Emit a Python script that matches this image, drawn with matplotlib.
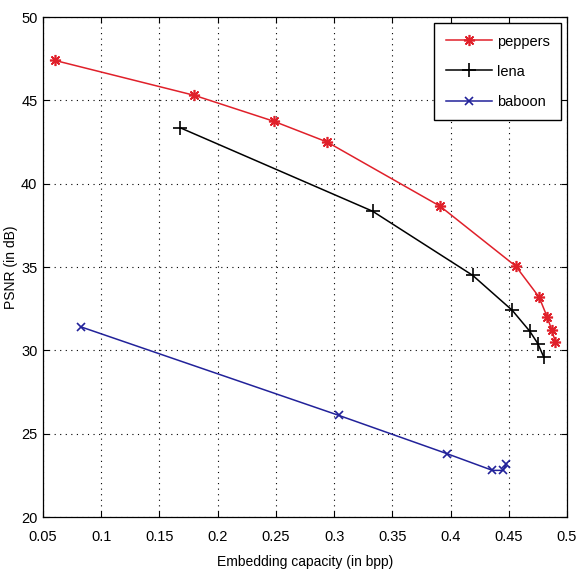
import matplotlib
matplotlib.use("Agg")
import matplotlib.pyplot as plt

# embedding capacity (bpp) vs PSNR (dB)
peppers_x = [0.060, 0.180, 0.248, 0.294, 0.391, 0.456, 0.476, 0.483, 0.487, 0.490]
peppers_y = [47.4, 45.3, 43.75, 42.5, 38.65, 35.05, 33.2, 32.0, 31.2, 30.5]
lena_x = [0.168, 0.333, 0.419, 0.453, 0.468, 0.475, 0.480]
lena_y = [43.35, 38.35, 34.5, 32.4, 31.15, 30.4, 29.6]
baboon_x = [0.083, 0.304, 0.397, 0.436, 0.445, 0.448]
baboon_y = [31.4, 26.1, 23.8, 22.8, 22.8, 23.2]

xticks = [0.05, 0.1, 0.15, 0.2, 0.25, 0.3, 0.35, 0.4, 0.45, 0.5]
xticklabels = ["0.05", "0.1", "0.15", "0.2", "0.25", "0.3", "0.35", "0.4", "0.45", "0.5"]
yticks = [20, 25, 30, 35, 40, 45, 50]

plt.rcParams["font.family"] = ["Liberation Sans", "DejaVu Sans"]

fig = plt.figure(figsize=(5.78, 5.79), dpi=100)
ax = fig.add_axes([0.0744, 0.107, 0.9066, 0.8636])

# matlab-style asterisk = plus + cross
ax.plot(peppers_x, peppers_y, color="#e0202a", marker=(8, 2, 0), markersize=8, mew=1.2, lw=1.1, label="peppers")
ax.plot(lena_x, lena_y, color="black", marker="+", markersize=10, mew=1.2, lw=1.1, label="lena")
ax.plot(baboon_x, baboon_y, color="#22229a", marker="x", markersize=6, mew=1.2, lw=1.1, label="baboon")

ax.set_xlim(0.05, 0.5)
ax.set_ylim(20, 50)
ax.set_xticks(xticks)
ax.set_xticklabels(xticklabels)
ax.set_yticks(yticks)
ax.tick_params(direction="in", length=4, labelsize=10.5, top=True, right=True,
               labeltop=False, labelright=False)
ax.tick_params(axis="x", pad=9)
ax.tick_params(axis="y", pad=4)
ax.grid(True, color="black", linestyle=(0, (1, 4)), linewidth=0.8)
for s in ax.spines.values():
    s.set_linewidth(0.9)

ax.set_xlabel("Embedding capacity (in bpp)", fontsize=10, labelpad=8)
ax.set_ylabel("PSNR (in dB)", fontsize=10, labelpad=2)

leg = ax.legend(loc="upper right", fontsize=10.5, handlelength=3.2, fancybox=False,
                framealpha=1, edgecolor="black", borderpad=0.8, labelspacing=1.1,
                handletextpad=0.3, borderaxespad=0.4)
leg.get_frame().set_linewidth(1.0)

fig.savefig("out.png", dpi=100)
